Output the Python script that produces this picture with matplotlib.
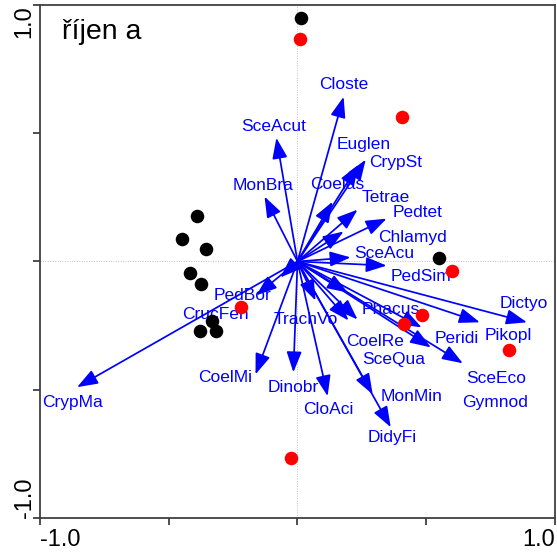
import matplotlib
matplotlib.use("Agg")
import matplotlib.pyplot as plt

plt.rcParams['font.family'] = ['Liberation Sans', 'DejaVu Sans']

# species arrows (tips) and label anchors
species = ["SceAcut", "MonBra", "Closte", "Euglen", "CrypSt", "Coelas", "Tetrae",
           "Pedtet", "Chlamyd", "SceAcu", "PedSim", "CrypMa", "PedBor", "CrucFen",
           "CoelMi", "Dinobr", "TrachVo", "CloAci", "MonMin", "DidyFi", "CoelRe",
           "SceQua", "SceEco", "Peridi", "Dictyo", "Phacus", "Pikopl", "Gymnod"]
tip_x = [-0.082, -0.128, 0.179, 0.237, 0.265, 0.136, 0.233,
         0.346, 0.179, 0.206, 0.346, -0.856, -0.160, -0.066,
         -0.163, -0.016, 0.070, 0.117, 0.292, 0.362, 0.198,
         0.518, 0.642, 0.708, 0.891, 0.482, 0.233, 0.195]
tip_y = [0.482, 0.253, 0.642, 0.377, 0.397, 0.233, 0.202,
         0.167, 0.117, 0.016, -0.016, -0.490, -0.132, -0.062,
         -0.440, -0.432, -0.152, -0.525, -0.518, -0.646, -0.230,
         -0.335, -0.397, -0.237, -0.237, -0.257, -0.226, -0.121]
lab_x = [-0.093, -0.132, 0.179, 0.257, 0.381, 0.156, 0.342,
         0.467, 0.447, 0.335, 0.479, -0.875, -0.214, -0.319,
         -0.280, -0.016, 0.031, 0.121, 0.444, 0.366, 0.300,
         0.374, 0.770, 0.619, 0.879, 0.362, 0.817, 0.767]
lab_y = [0.525, 0.296, 0.689, 0.455, 0.385, 0.300, 0.249,
         0.191, 0.093, 0.031, -0.058, -0.549, -0.132, -0.206,
         -0.451, -0.490, -0.226, -0.576, -0.525, -0.685, -0.311,
         -0.381, -0.455, -0.300, -0.163, -0.187, -0.288, -0.549]

# samples
black_x = [0.012, -0.389, -0.447, -0.354, -0.416, -0.374, -0.331, -0.377, -0.315, 0.549]
black_y = [0.949, 0.179, 0.086, 0.047, -0.043, -0.089, -0.233, -0.272, -0.272, 0.012]
red_x = [0.008, 0.405, 0.599, -0.218, 0.482, 0.412, 0.821, -0.027]
red_y = [0.868, 0.564, -0.039, -0.179, -0.210, -0.245, -0.346, -0.767]

fig = plt.figure(figsize=(5.57, 5.54), dpi=100)
ax = fig.add_axes([0.0718, 0.065, 0.9246, 0.926])
ax.set_xlim(-1.0, 1.0)
ax.set_ylim(-1.0, 1.0)

ax.axhline(0, color="#c0c0c0", lw=0.7, ls=(0, (1, 1.5)), zorder=0)
ax.axvline(0, color="#c0c0c0", lw=0.7, ls=(0, (1, 1.5)), zorder=0)

for name, tx, ty, lx, ly in zip(species, tip_x, tip_y, lab_x, lab_y):
    ax.annotate("", xy=(tx, ty), xytext=(0, 0),
                arrowprops=dict(arrowstyle="-|>,head_length=0.9,head_width=0.33",
                                color="blue", lw=1.25, shrinkA=0, shrinkB=0,
                                mutation_scale=14), zorder=2)
    ax.text(lx, ly, name, color="blue", fontsize=12.5, ha="center", va="center", zorder=3)

ax.scatter(black_x, black_y, s=95, color="black", zorder=4, linewidths=0)
ax.scatter(red_x, red_y, s=95, color="red", zorder=4, linewidths=0)

ax.text(0.043, 0.947, "říjen a", transform=ax.transAxes, fontsize=20.5,
        ha="left", va="center")

for s in ax.spines.values():
    s.set_color("#404040")
    s.set_linewidth(1.3)

ax.set_xticks([-1.0, -0.5, 0.0, 0.5, 1.0], ["-1.0", "", "", "", "1.0"])
ax.set_yticks([-1.0, -0.5, 0.0, 0.5, 1.0], ["-1.0", "", "", "", "1.0"])
ax.tick_params(direction="out", length=5, width=1.3, color="#404040",
               labelsize=17, pad=3)
xl = ax.get_xticklabels()
xl[0].set_ha("left")
xl[-1].set_ha("right")
yl = ax.get_yticklabels()
for t in yl:
    t.set_rotation(90)
    t.set_ha("center")
yl[0].set_va("bottom")
yl[-1].set_va("top")
ax.tick_params(axis="y", pad=6)

fig.savefig("out.png", dpi=100)
